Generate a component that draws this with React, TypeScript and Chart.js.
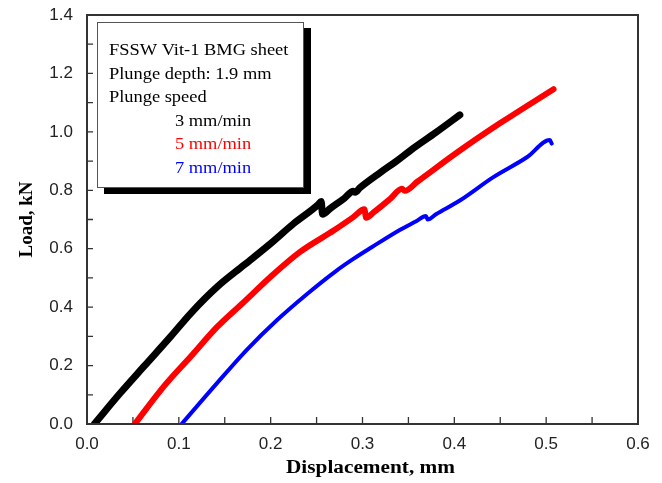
import { useEffect, useRef } from "react";
import { Chart, registerables } from "chart.js";

Chart.register(...registerables);

// ---- data (Displacement in mm, Load in kN) ----
const blackX = [0.008, 0.036, 0.062, 0.091, 0.113, 0.142, 0.171, 0.2, 0.225, 0.252, 0.255, 0.2565, 0.265, 0.28, 0.29, 0.292, 0.297, 0.32, 0.337, 0.352, 0.38, 0.406];
const blackY = [0.0, 0.105, 0.197, 0.299, 0.379, 0.47, 0.544, 0.618, 0.686, 0.752, 0.762, 0.718, 0.738, 0.772, 0.797, 0.793, 0.808, 0.862, 0.9, 0.936, 0.998, 1.058];

const redX = [0.052, 0.0835, 0.113, 0.142, 0.171, 0.2, 0.232, 0.269, 0.29, 0.302, 0.304, 0.312, 0.33, 0.343, 0.346, 0.36, 0.406, 0.45, 0.508];
const redY = [0.0, 0.128, 0.231, 0.333, 0.418, 0.504, 0.589, 0.663, 0.708, 0.735, 0.706, 0.724, 0.77, 0.805, 0.798, 0.83, 0.936, 1.03, 1.146];

const blueX = [0.103, 0.1416, 0.174, 0.207, 0.24, 0.27, 0.29, 0.31, 0.341, 0.359, 0.369, 0.371, 0.38, 0.406, 0.4425, 0.479, 0.504, 0.506];
const blueY = [0.0, 0.14, 0.254, 0.356, 0.446, 0.521, 0.565, 0.605, 0.665, 0.695, 0.712, 0.7, 0.718, 0.765, 0.845, 0.913, 0.972, 0.96];

const seriesLabels = ["3 mm/min", "5 mm/min", "7 mm/min"];
const seriesColors = ["#000000", "#ff0000", "#0000ff"];
const seriesWidths = [7, 6, 4];
const noteLines = ["FSSW Vit-1 BMG sheet", "Plunge depth: 1.9 mm", "Plunge speed"];

const xTitle = "Displacement, mm";
const yTitle = "Load, kN";
const xMin = 0, xMax = 0.6, xStep = 0.05;
const yMin = 0, yMax = 1.4, yStep = 0.1;

const zip = (xs: number[], ys: number[]) => xs.map((x, i) => ({ x, y: ys[i] }));

const STRETCH = 1.15;

const decorPlugin = {
  id: "decor",
  beforeDatasetsDraw(chart: any) {
    const { ctx, chartArea: a, scales } = chart;
    ctx.save();
    ctx.strokeStyle = "#333";
    ctx.lineWidth = 1.3;
    ctx.beginPath();
    for (const t of scales.x.ticks) {
      const px = scales.x.getPixelForValue(t.value);
      ctx.moveTo(px, a.bottom);
      ctx.lineTo(px, a.bottom - 7);
    }
    for (const t of scales.y.ticks) {
      const py = scales.y.getPixelForValue(t.value);
      ctx.moveTo(a.left, py);
      ctx.lineTo(a.left + 6, py);
    }
    ctx.stroke();
    ctx.restore();
  },
  afterDatasetsDraw(chart: any) {
    const { ctx, chartArea: a } = chart;
    ctx.save();
    ctx.strokeStyle = "#333";
    ctx.lineWidth = 2;
    ctx.strokeRect(a.left, a.top, a.right - a.left, a.bottom - a.top);
    ctx.restore();
  },
  afterDraw(chart: any) {
    const { ctx, chartArea: a } = chart;
    ctx.save();
    // note box with shadow
    const bx = a.left + 10, by = a.top + 7, bw = 206, bh = 165;
    ctx.fillStyle = "#000";
    ctx.fillRect(bx + 7, by + 6, bw + 1, bh + 1);
    ctx.fillStyle = "#fff";
    ctx.fillRect(bx, by, bw, bh);
    ctx.strokeStyle = "#555";
    ctx.lineWidth = 1;
    ctx.strokeRect(bx + 0.5, by + 0.5, bw, bh);

    const drawStretched = (text: string, x: number, y: number, font: string, color: string, align: "left" | "center") => {
      ctx.save();
      ctx.translate(x, y);
      ctx.scale(STRETCH, 1);
      ctx.font = font;
      ctx.fillStyle = color;
      ctx.textAlign = align;
      ctx.textBaseline = "alphabetic";
      ctx.fillText(text, 0, 0);
      ctx.restore();
    };
    const lh = 23.5;
    const font = "16px 'Liberation Serif', 'Times New Roman', serif";
    noteLines.forEach((t, i) => drawStretched(t, bx + 12, by + 33 + i * lh, font, "#000", "left"));
    seriesLabels.forEach((t, i) =>
      drawStretched(t, bx + 78, by + 33 + (i + 3) * lh, font, seriesColors[i], "left")
    );
    // x-axis title
    drawStretched(xTitle, (a.left + a.right) / 2 + 8, a.bottom + 49, "bold 18.5px 'Liberation Serif', 'Times New Roman', serif", "#000", "center");
    ctx.restore();
  },
};

export default function App() {
  const ref = useRef<HTMLCanvasElement | null>(null);
  useEffect(() => {
    if (!ref.current) return;
    const series = [zip(blackX, blackY), zip(redX, redY), zip(blueX, blueY)];
    const chart = new Chart(ref.current, {
      type: "line",
      data: {
        datasets: series.map((d, i) => ({
          label: seriesLabels[i],
          data: d,
          borderColor: seriesColors[i],
          backgroundColor: seriesColors[i],
          borderWidth: seriesWidths[i],
          pointRadius: 0,
          cubicInterpolationMode: "monotone" as const,
          borderJoinStyle: "round" as const,
          borderCapStyle: "round" as const,
          clip: 0,
          fill: false,
        })),
      },
      options: {
        animation: false,
        responsive: true,
        maintainAspectRatio: false,
        layout: { padding: { left: 0, top: 15, right: 24, bottom: 0 } },
        plugins: { legend: { display: false }, tooltip: { enabled: false }, title: { display: false } },
        scales: {
          x: {
            type: "linear",
            min: xMin,
            max: xMax,
            grid: { display: false, drawTicks: false },
            border: { display: false },
            ticks: {
              stepSize: xStep,
              autoSkip: false,
              maxRotation: 0,
              padding: 10,
              color: "#222",
              font: { family: "'Liberation Sans', Arial, sans-serif", size: 17 },
              callback: (v: any) => {
                const n = Number(v);
                return Math.abs(n * 10 - Math.round(n * 10)) < 1e-6 ? n.toFixed(1) : "";
              },
            },
            title: { display: false, text: xTitle },
            afterFit: (s: any) => {
              s.height = 59;
              s.paddingLeft = 0;
              s.paddingRight = 0;
              s.paddingTop = 0;
              s.paddingBottom = 0;
            },
          },
          y: {
            type: "linear",
            min: yMin,
            max: yMax,
            grid: { display: false, drawTicks: false },
            border: { display: false },
            ticks: {
              stepSize: yStep,
              autoSkip: false,
              padding: 14,
              color: "#222",
              font: { family: "'Liberation Sans', Arial, sans-serif", size: 17 },
              callback: (v: any) => {
                const n = Number(v);
                return Math.abs(n * 5 - Math.round(n * 5)) < 1e-6 ? n.toFixed(1) : "";
              },
            },
            title: {
              display: true,
              text: yTitle,
              color: "#000",
              padding: { top: 16, bottom: 0 },
              font: { family: "'Liberation Serif', 'Times New Roman', serif", size: 19, weight: "bold" },
            },
            afterFit: (s: any) => {
              s.width = 87;
              s.paddingLeft = 0;
              s.paddingRight = 0;
              s.paddingTop = 0;
              s.paddingBottom = 0;
            },
          },
        },
      },
      plugins: [decorPlugin],
    });
    return () => chart.destroy();
  }, []);
  return (
    <div style={{ position: "absolute", left: 0, top: 0, width: 662, height: 483, background: "#fff" }}>
      <canvas ref={ref} />
    </div>
  );
}
